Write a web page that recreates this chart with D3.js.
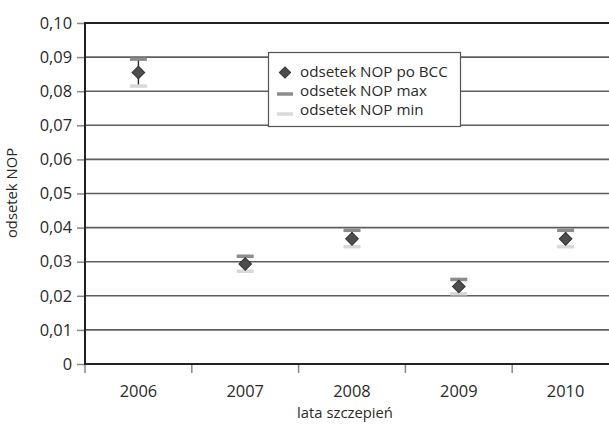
<!DOCTYPE html>
<html><head><meta charset="utf-8">
<script src="https://cdn.jsdelivr.net/npm/d3@7"></script>
<style>body{margin:0;background:#fff}svg{display:block}text{font-family:"Open Sans",sans-serif;fill:#2a2a2a}</style>
</head><body><svg id="c" width="609" height="425"></svg>
<script>
const years = ["2006","2007","2008","2009","2010"];
const valBCC = [0.0855, 0.0293, 0.0367, 0.0227, 0.0367];
const valMax = [0.0894, 0.0316, 0.0392, 0.0248, 0.0392];
const valMin = [0.0815, 0.0272, 0.0344, 0.0206, 0.0344];
const yTicks = [0,0.01,0.02,0.03,0.04,0.05,0.06,0.07,0.08,0.09,0.10];
const legendLabels = ["odsetek NOP po BCC","odsetek NOP max","odsetek NOP min"];

const FS = "14.8px", FT = "16.4px", FL = "15.2px";
const svg = d3.select("#c");
const L=85, R=619, T=23, B=364;
const x = d3.scaleBand().domain(years).range([L,R]);
const y = d3.scaleLinear().domain([0,0.10]).range([B,T]);
const fmt = v => v===0 ? "0" : d3.format(".2f")(v).replace(".",",");

// gridlines
svg.append("g").selectAll("line").data(yTicks.filter(v=>v>0 && v<0.10)).join("line")
  .attr("x1",L).attr("x2",R).attr("y1",d=>y(d)).attr("y2",d=>y(d))
  .attr("stroke","#5e5e5e").attr("stroke-width",1.6);
// top border
svg.append("line").attr("x1",L).attr("x2",R).attr("y1",y(0.10)).attr("y2",y(0.10)).attr("stroke","#222").attr("stroke-width",2);

// y axis
const ya = svg.append("g").attr("transform",`translate(${L},0)`)
  .call(d3.axisLeft(y).tickValues(yTicks).tickFormat(fmt).tickSize(8).tickPadding(5));
ya.select(".domain").remove();
ya.selectAll(".tick line").attr("stroke","#888").attr("stroke-width",1.5);
ya.selectAll(".tick text").style("font-size",FT).attr("fill","#2a2a2a").attr("font-family","'Open Sans',sans-serif");
svg.append("line").attr("x1",L).attr("x2",L).attr("y1",T-1).attr("y2",B+1).attr("stroke","#222").attr("stroke-width",2);

// x axis
const xa = svg.append("g").attr("transform",`translate(0,${B})`)
  .call(d3.axisBottom(x).tickSize(0).tickPadding(21));
xa.select(".domain").remove();
xa.selectAll(".tick text").style("font-size",FT).attr("fill","#2a2a2a").attr("font-family","'Open Sans',sans-serif");
const bounds = years.map(d=>x(d)).concat([R]);
svg.append("g").selectAll("line").data(bounds).join("line")
  .attr("x1",d=>d).attr("x2",d=>d).attr("y1",B).attr("y2",B+9).attr("stroke","#888").attr("stroke-width",1.5);
svg.append("line").attr("x1",L-1).attr("x2",R).attr("y1",B).attr("y2",B).attr("stroke","#222").attr("stroke-width",2);

// marks
const cx = d => x(d)+x.bandwidth()/2;
const g = svg.append("g");
years.forEach((yr,i)=>{
  g.append("line").attr("x1",cx(yr)).attr("x2",cx(yr)).attr("y1",y(valMax[i])).attr("y2",y(valMin[i]))
   .attr("stroke","#333").attr("stroke-width",1.5);
  g.append("line").attr("x1",cx(yr)-8.5).attr("x2",cx(yr)+8.5).attr("y1",y(valMax[i])).attr("y2",y(valMax[i]))
   .attr("stroke","#8c8c8c").attr("stroke-width",3.5);
  g.append("line").attr("x1",cx(yr)-8.5).attr("x2",cx(yr)+8.5).attr("y1",y(valMin[i])).attr("y2",y(valMin[i]))
   .attr("stroke","#d9d9d9").attr("stroke-width",3.5);
  g.append("path").attr("d",d3.symbol(d3.symbolSquare, 80)())
   .attr("transform",`translate(${cx(yr)},${y(valBCC[i])}) rotate(45)`)
   .attr("fill","#4d4d4d").attr("stroke","#333").attr("stroke-width",1);
});

// legend
const lg = svg.append("g");
lg.append("rect").attr("x",268.5).attr("y",52.5).attr("width",192).attr("height",74).attr("fill","#fff").attr("stroke","#555").attr("stroke-width",1.2);
const rows=[72,91,110];
lg.append("path").attr("d",d3.symbol(d3.symbolSquare,64)()).attr("transform",`translate(285,${rows[0]+0.5}) rotate(45)`).attr("fill","#4d4d4d").attr("stroke","#333");
lg.append("line").attr("x1",277).attr("x2",293).attr("y1",rows[1]+3).attr("y2",rows[1]+3).attr("stroke","#8c8c8c").attr("stroke-width",3.5);
lg.append("line").attr("x1",277).attr("x2",293).attr("y1",rows[2]+4).attr("y2",rows[2]+4).attr("stroke","#d9d9d9").attr("stroke-width",3.5);
lg.selectAll("text").data(legendLabels).join("text").attr("x",300).attr("y",(d,i)=>rows[i]+5)
  .style("font-size",FL).text(d=>d);

// titles
svg.append("text").attr("x",345).attr("y",418).attr("text-anchor","middle").style("font-size",FS).text("lata szczepień");
svg.append("text").attr("transform","translate(17,193) rotate(-90)").attr("text-anchor","middle").style("font-size",FS).text("odsetek NOP");
</script></body></html>
